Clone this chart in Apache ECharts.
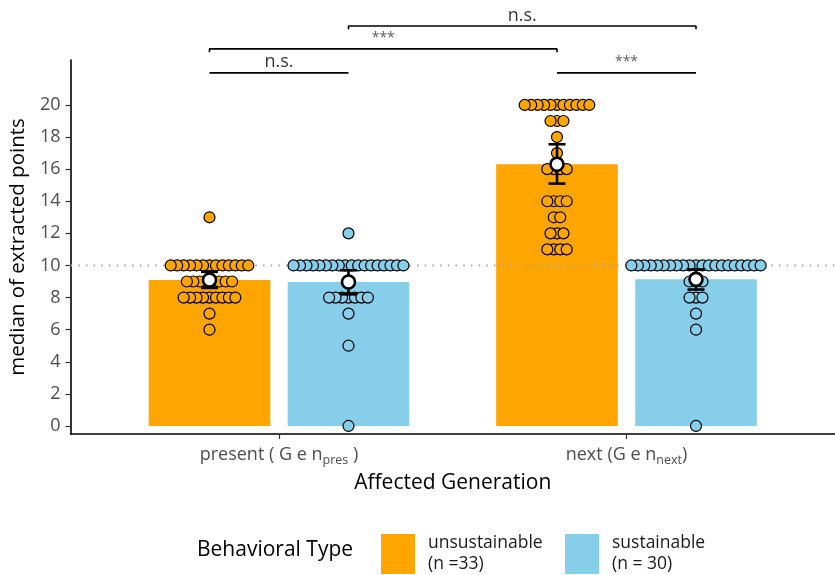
<!DOCTYPE html>
<html><head><meta charset="utf-8">
<script src="https://cdn.jsdelivr.net/npm/echarts@6/dist/echarts.min.js"></script>
<style>html,body{margin:0;padding:0;background:#fff}#c{width:835px;height:575px}</style>
</head><body><div id="c"></div>
<script>
// ---- data ----
const categories = ['present', 'next'];
const categorySubs = ['pres', 'next'];
const typeNames = ['unsustainable', 'sustainable'];
const typeCounts = ['(n =33)', '(n = 30)'];
const presentUnsustainable = [13,10,10,10,10,10,10,10,10,10,10,10,10,10,9,9,9,9,9,9,9,9,8,8,8,8,8,8,8,8,8,7,6];
const presentSustainable = [12,10,10,10,10,10,10,10,10,10,10,10,10,10,10,10,10,10,10,9,8,8,8,8,8,8,8,7,5,0];
const nextUnsustainable = [20,20,20,20,20,20,20,20,20,20,20,19,19,19,18,17,16,16,16,16,14,14,14,14,13,13,12,12,12,11,11,11,11];
const nextSustainable = [10,10,10,10,10,10,10,10,10,10,10,10,10,10,10,10,10,10,10,10,10,9,9,9,8,8,8,7,6,0];
// 95% CI bounds, order: present-unsust, present-sust, next-unsust, next-sust
const ciLower = [8.6, 8.2, 15.1, 8.5];
const ciUpper = [9.6, 9.7, 17.55, 9.75];
const referenceValue = 10;
const yTicks = [0, 2, 4, 6, 8, 10, 12, 14, 16, 18, 20];
// comparisons between groups (group index 0..3)
const comparisonPairs = [[0, 1], [0, 2], [1, 3], [2, 3]];
const comparisonLabels = ['n.s.', '***', 'n.s.', '***'];

// ---- layout helpers ----
const colors = ['#FFA500', '#87CEEB'];
const DODGE = 0.2, HALF_BAR = 0.175, DOT_STEP = 0.0186;
const groupValues = [presentUnsustainable, presentSustainable, nextUnsustainable, nextSustainable];
const groupX = [], groupType = [], groupMean = [];
groupValues.forEach((vals, g) => {
  const cat = Math.floor(g / 2), t = g % 2;
  groupX.push(cat + 1 + (t === 0 ? -DODGE : DODGE));
  groupType.push(t);
  groupMean.push(vals.reduce((a, b) => a + b, 0) / vals.length);
});
function swarm(values, xc) {
  const counts = {};
  values.forEach(v => counts[v] = (counts[v] || 0) + 1);
  const pts = [];
  Object.keys(counts).forEach(k => {
    const n = counts[k];
    for (let i = 0; i < n; i++) {
      const off = (i - (n - 1) / 2) * DOT_STEP;
      pts.push([xc + off, +k, Math.abs(off)]);
    }
  });
  pts.sort((a, b) => a[2] - b[2]);
  return pts.map(p => [p[0], p[1]]);
}

const FONT = 'Open Sans';
const series = [];
// bars
[0, 1].forEach(t => {
  series.push({
    name: typeNames[t], type: 'custom', z: 1,
    itemStyle: { color: colors[t] },
    encode: { x: 0, y: 1 },
    data: groupX.map((x, g) => [x, groupMean[g]]).filter((d, g) => groupType[g] === t),
    renderItem: (params, api) => {
      const x = api.value(0), m = api.value(1);
      const p0 = api.coord([x - HALF_BAR, m]), p1 = api.coord([x + HALF_BAR, 0]);
      return { type: 'rect', shape: { x: p0[0], y: p0[1], width: p1[0] - p0[0], height: p1[1] - p0[1] },
               style: { fill: colors[t] } };
    }
  });
});
// reference line
series.push({
  type: 'line', z: 2, silent: true, symbol: 'none',
  data: [[0.4, referenceValue], [2.6, referenceValue]],
  lineStyle: { color: '#A6A6A6', width: 2, type: [1.5, 6.2] }
});
// dots
groupValues.forEach((vals, g) => {
  series.push({
    type: 'scatter', z: 3, silent: true, symbolSize: 11,
    itemStyle: { color: colors[groupType[g]], borderColor: '#000', borderWidth: 1.2, opacity: 1 },
    data: swarm(vals, groupX[g])
  });
});
// error bars
series.push({
  type: 'custom', z: 4, silent: true,
  encode: { x: 0, y: [1, 2] },
  data: groupX.map((x, g) => [x, ciLower[g], ciUpper[g]]),
  renderItem: (params, api) => {
    const x = api.value(0);
    const pt = api.coord([x, api.value(2)]), pb = api.coord([x, api.value(1)]);
    const cap = 8.5, st = { stroke: '#000', lineWidth: 2.6 };
    return { type: 'group', children: [
      { type: 'line', shape: { x1: pt[0], y1: pt[1], x2: pb[0], y2: pb[1] }, style: st },
      { type: 'line', shape: { x1: pt[0] - cap, y1: pt[1], x2: pt[0] + cap, y2: pt[1] }, style: st },
      { type: 'line', shape: { x1: pb[0] - cap, y1: pb[1], x2: pb[0] + cap, y2: pb[1] }, style: st }
    ] };
  }
});
// means
series.push({
  type: 'scatter', z: 5, silent: true, symbolSize: 13,
  itemStyle: { color: '#fff', borderColor: '#000', borderWidth: 2.6, opacity: 1 },
  data: groupX.map((x, g) => [x, groupMean[g]])
});
// significance brackets
const bracketLevels = [22.0, 23.49, 24.92, 22.0];
const bracketTicks = [false, true, true, false];
const TICK = 0.2;
comparisonPairs.forEach((pair, i) => {
  const x1 = groupX[pair[0]], x2 = groupX[pair[1]], y = bracketLevels[i];
  const d = bracketTicks[i]
    ? [[x1, y - TICK], [x1, y], [x2, y], [x2, y - TICK]]
    : [[x1, y], [x2, y]];
  series.push({
    type: 'line', z: 6, silent: true, clip: false, symbol: 'none',
    lineStyle: { color: '#000', width: 1.6 }, data: d
  });
  const isStar = comparisonLabels[i] === '***';
  series.push({
    type: 'scatter', z: 6, silent: true, clip: false, symbolSize: 1,
    itemStyle: { color: 'rgba(0,0,0,0)' },
    label: { show: true, position: 'top', distance: isStar ? 3 : 1,
             formatter: comparisonLabels[i], fontFamily: FONT,
             fontSize: isStar ? 14 : 18, color: isStar ? '#333' : '#000' },
    data: [[(x1 + x2) / 2, y]]
  });
});

const chart = echarts.init(document.getElementById('c'), null, { renderer: 'canvas' });
chart.setOption({
  animation: false,
  backgroundColor: '#fff',
  textStyle: { fontFamily: FONT },
  grid: { left: 68, right: -3.5, top: 60, bottom: 141 },
  title: {
    text: 'Behavioral Type', left: 197, top: 540, padding: 0,
    textStyle: { fontFamily: FONT, fontSize: 21, fontWeight: 'normal', color: '#000' }
  },
  legend: [0, 1].map(t => ({
    data: [{ name: typeNames[t], icon: 'rect', itemStyle: { color: colors[t] } }],
    left: t === 0 ? 381 : 565, top: 533, padding: 0, itemWidth: 34, itemHeight: 40,
    selectedMode: false,
    formatter: n => n + '\n' + typeCounts[t],
    textStyle: { fontFamily: FONT, fontSize: 17.5, lineHeight: 21, color: '#1a1a1a', padding: [0, 0, 0, 8] }
  })),
  xAxis: {
    type: 'value', min: 0.4, max: 2.6,
    name: 'Affected Generation', nameLocation: 'middle', nameGap: 39,
    nameTextStyle: { fontFamily: FONT, fontSize: 21, color: '#000' },
    axisLine: { onZero: false, lineStyle: { color: '#000', width: 1.6 } },
    axisTick: { customValues: [1, 2], length: 5, lineStyle: { color: '#333', width: 1.2 } },
    splitLine: { show: false },
    axisLabel: {
      customValues: [1, 2], margin: 9,
      formatter: v => {
        const i = Math.round(v) - 1;
        return '{b|' + categories[i] + (i === 0 ? ' ( G e n' : ' (G e n') + '}{s|' + categorySubs[i] + '}{b|' + (i === 0 ? ' )' : ')') + '}';
      },
      rich: {
        b: { fontFamily: FONT, fontSize: 18, color: '#4D4D4D', lineHeight: 24 },
        s: { fontFamily: FONT, fontSize: 12.5, color: '#4D4D4D', lineHeight: 24, padding: [10, 0, 0, 0] }
      }
    }
  },
  yAxis: {
    type: 'value', min: -0.5, max: 22.8,
    name: 'median of extracted points', nameLocation: 'middle', nameGap: 34,
    nameTextStyle: { fontFamily: FONT, fontSize: 20.5, color: '#000', padding: [0, 0, 0, 0] },
    axisLine: { onZero: false, lineStyle: { color: '#000', width: 1.6 } },
    axisTick: { customValues: yTicks, length: 5, lineStyle: { color: '#333', width: 1.2 } },
    splitLine: { show: false },
    axisLabel: { customValues: yTicks, margin: 10, fontFamily: FONT, fontSize: 18, color: '#4D4D4D' }
  },
  series: series
});
</script></body></html>
